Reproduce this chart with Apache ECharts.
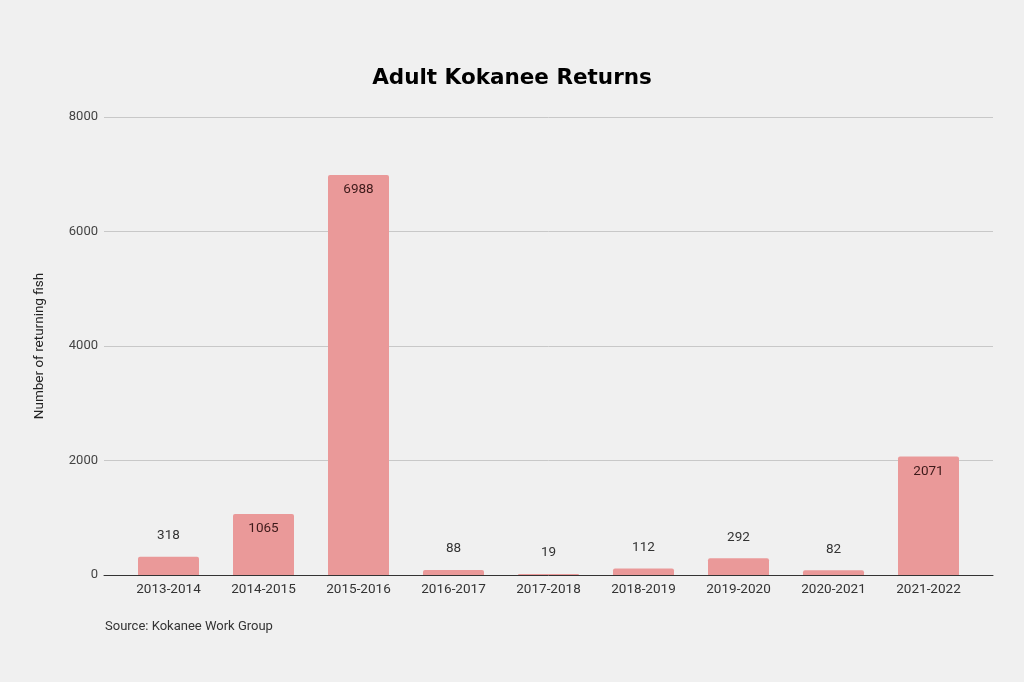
<!DOCTYPE html>
<html>
<head>
<meta charset="utf-8">
<script src="https://cdn.jsdelivr.net/npm/echarts@6/dist/echarts.min.js"></script>
<style>
    html, body { margin: 0; padding: 0; background: #f0f0f0; }
    #container { width: 1024px; height: 682px; }
</style>
</head>
<body>
<div id="container"></div>
<script>
var seasons = ['2013-2014', '2014-2015', '2015-2016', '2016-2017', '2017-2018', '2018-2019', '2019-2020', '2020-2021', '2021-2022'];
var returns = [318, 1065, 6988, 88, 19, 112, 292, 82, 2071];
var yTicks = [0, 2000, 4000, 6000, 8000];

var barColor = '#ea9999';

// tall bars carry their label inside, short ones above
var barData = returns.map(function (v) {
    var inside = v > 500;
    return {
        value: v,
        label: {
            position: inside ? 'insideTop' : 'top',
            distance: inside ? 8 : 14,
            color: inside ? '#3d1a1a' : '#333333'
        }
    };
});

var dom = document.getElementById("container");
var myChart = echarts.init(dom);

var option = {
    backgroundColor: '#f0f0f0',
    animation: false,
    title: [{
        text: 'Adult Kokanee Returns',
        left: 'center',
        top: 62,
        textStyle: {
            fontFamily: 'DejaVu Sans',
            fontWeight: 'bold',
            fontSize: 21.5,
            color: '#000000'
        }
    }, {
        text: 'Source: Kokanee Work Group',
        left: 100,
        top: 615,
        textStyle: {
            fontFamily: 'Roboto',
            fontWeight: 'normal',
            fontSize: 13,
            color: '#333333'
        }
    }],
    grid: [
        // outer grid: gridlines, y labels and baseline
        { left: 104, right: 31, top: 117, bottom: 107 },
        // inner grid: the bars sit a little inside the gridlines
        { left: 121, right: 48, top: 117, bottom: 107 }
    ],
    xAxis: [{
        gridIndex: 0,
        type: 'value',
        min: 0,
        max: 1,
        axisLabel: { show: false },
        axisTick: { show: false },
        splitLine: { show: false },
        axisLine: { show: true, onZero: false, lineStyle: { color: '#333333', width: 1 } }
    }, {
        gridIndex: 1,
        type: 'category',
        data: seasons,
        axisLine: { show: false },
        axisTick: { show: false },
        axisLabel: {
            fontFamily: 'Roboto',
            fontSize: 13.5,
            color: '#333333',
            margin: 8
        }
    }],
    yAxis: [{
        gridIndex: 0,
        type: 'value',
        min: yTicks[0],
        max: yTicks[yTicks.length - 1],
        interval: yTicks[1] - yTicks[0],
        name: 'Number of returning fish',
        nameLocation: 'middle',
        nameGap: 57,
        nameTextStyle: {
            fontFamily: 'Roboto',
            fontSize: 13.5,
            color: '#222222'
        },
        axisLine: { show: false },
        axisTick: { show: false },
        axisLabel: {
            fontFamily: 'Roboto',
            fontSize: 13,
            color: '#444444',
            margin: 6,
            formatter: function (v) { return String(v); }
        },
        splitLine: { lineStyle: { color: '#c8c8c8', width: 1 } }
    }, {
        gridIndex: 1,
        type: 'value',
        min: yTicks[0],
        max: yTicks[yTicks.length - 1],
        show: false,
        splitLine: { show: false }
    }],
    series: [{
        name: 'Returns',
        type: 'bar',
        xAxisIndex: 1,
        yAxisIndex: 1,
        data: barData,
        barWidth: 61,
        itemStyle: {
            color: barColor,
            borderRadius: [2, 2, 0, 0]
        },
        label: {
            show: true,
            fontFamily: 'Roboto',
            fontSize: 13.5
        }
    }]
};

myChart.setOption(option, true);
</script>
</body>
</html>
